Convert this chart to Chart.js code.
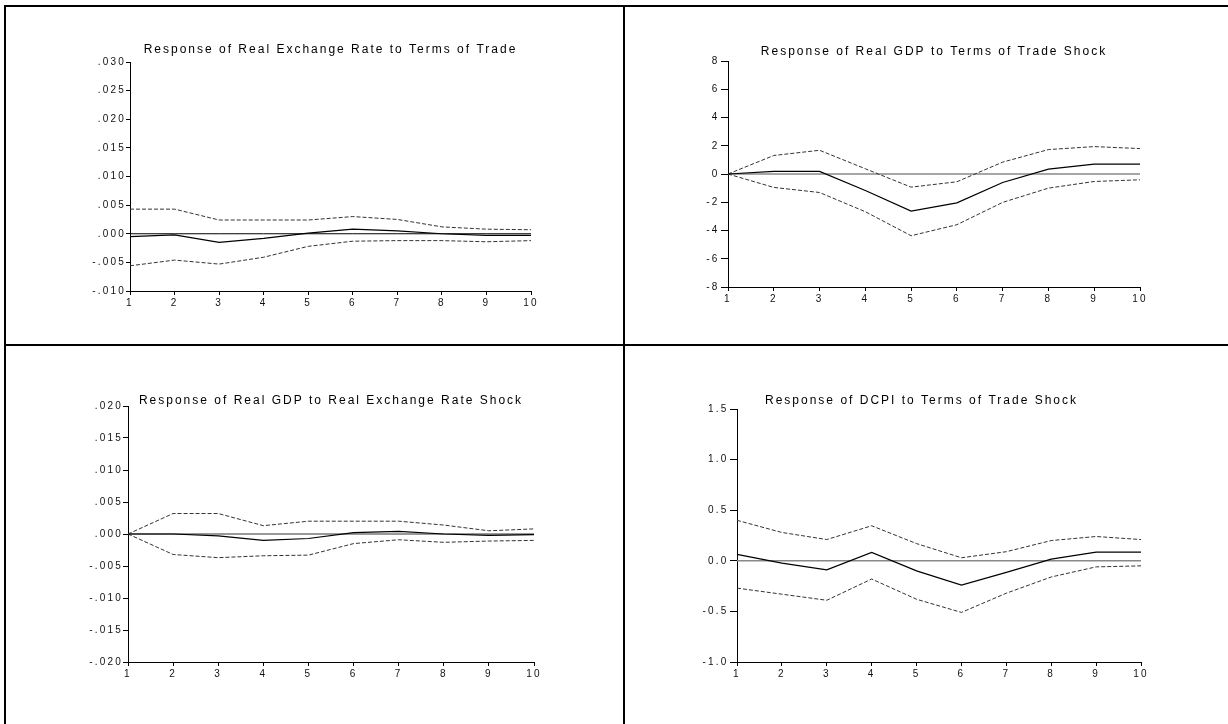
<!DOCTYPE html>
<html>
<head>
<meta charset="utf-8">
<script src="https://cdn.jsdelivr.net/npm/chart.js@4.4.0/dist/chart.umd.min.js"></script>
<style>
body { margin: 0; background: #fff; }
#page { position: relative; width: 1228px; height: 724px; overflow: hidden; background: #fff; }
canvas { position: absolute; }
.ln { position: absolute; background: #000; z-index: 2; }
</style>
</head>
<body>
<div id="page">
  <div class="ln" style="left:4px;top:5px;width:1224px;height:2px"></div>
  <div class="ln" style="left:4px;top:5px;width:2px;height:719px"></div>
  <div class="ln" style="left:623px;top:5px;width:2px;height:719px"></div>
  <div class="ln" style="left:4px;top:344px;width:1224px;height:2px"></div>
  <canvas id="c1"></canvas>
  <canvas id="c2"></canvas>
  <canvas id="c3"></canvas>
  <canvas id="c4"></canvas>
</div>
<script>
// periods after the shock
const steps = ['1', '2', '3', '4', '5', '6', '7', '8', '9', '10'];
const zeroLine = [0, 0, 0, 0, 0, 0, 0, 0, 0, 0];

// Response of Real Exchange Rate to Terms of Trade
const rerTotResp  = [-0.0005, -0.0002, -0.0015, -0.0008, 0.0001, 0.0008, 0.0005, 0.0000, -0.0003, -0.0003];
const rerTotUpper = [0.0043, 0.0043, 0.0024, 0.0024, 0.0024, 0.0030, 0.0025, 0.0012, 0.0008, 0.0007];
const rerTotLower = [-0.0056, -0.0046, -0.0053, -0.0041, -0.0022, -0.0013, -0.0012, -0.0012, -0.0014, -0.0012];
const rerTotTicks = ['-.010', '-.005', '.000', '.005', '.010', '.015', '.020', '.025', '.030'];

// Response of Real GDP to Terms of Trade Shock
const gdpTotResp  = [0, 0.18, 0.18, -1.17, -2.63, -2.04, -0.60, 0.34, 0.70, 0.70];
const gdpTotUpper = [0, 1.31, 1.68, 0.37, -0.93, -0.55, 0.84, 1.73, 1.94, 1.80];
const gdpTotLower = [0, -0.95, -1.31, -2.67, -4.37, -3.59, -2.01, -1.00, -0.53, -0.41];
const gdpTotTicks = ['-8', '-6', '-4', '-2', '0', '2', '4', '6', '8'];

// Response of Real GDP to Real Exchange Rate Shock
const gdpRerResp  = [0, 0.0000, -0.0003, -0.0010, -0.0007, 0.0002, 0.0004, 0.0000, -0.0002, -0.0001];
const gdpRerUpper = [0, 0.0032, 0.0032, 0.0013, 0.0020, 0.0020, 0.0020, 0.0014, 0.0005, 0.0008];
const gdpRerLower = [0, -0.0032, -0.0037, -0.0034, -0.0033, -0.0015, -0.0009, -0.0013, -0.0011, -0.0010];
const gdpRerTicks = ['-.020', '-.015', '-.010', '-.005', '.000', '.005', '.010', '.015', '.020'];

// Response of DCPI to Terms of Trade Shock
const cpiTotResp  = [0.063, -0.023, -0.090, 0.082, -0.100, -0.240, -0.115, 0.016, 0.086, 0.086];
const cpiTotUpper = [0.40, 0.28, 0.21, 0.346, 0.17, 0.03, 0.09, 0.20, 0.24, 0.21];
const cpiTotLower = [-0.27, -0.33, -0.39, -0.18, -0.38, -0.51, -0.32, -0.16, -0.06, -0.05];
const cpiTotTicks = ['-1.0', '-0.5', '0.0', '0.5', '1.0', '1.5'];

Chart.defaults.font.family = '"Liberation Sans", Arial, sans-serif';
Chart.defaults.color = '#000';

// EViews-style spaced lettering: one spacing for ticks, another for the title
const spacing = {
  id: 'spacing',
  beforeLayout(c) { c.ctx.letterSpacing = '2.2px'; },
  beforeDraw(c) {
    c.ctx.letterSpacing = '2.2px';
    const tb = c.titleBlock;
    if (tb && !tb._spaced) {
      const orig = tb.draw.bind(tb);
      tb.draw = function (area) {
        const prev = c.ctx.letterSpacing;
        c.ctx.letterSpacing = '2px';
        orig(area);
        c.ctx.letterSpacing = prev;
      };
      tb._spaced = true;
    }
  }
};

function build(id, geo, title, resp, upper, lower, ticks, yMin, yMax, yStep, zeroColor, zeroWidth) {
  const cv = document.getElementById(id);
  cv.width = geo.w; cv.height = geo.h;
  cv.style.left = geo.x + 'px'; cv.style.top = geo.y + 'px';
  const xH = 22;
  const tSize = 12;
  const padTop = geo.titleY - geo.y - tSize / 2;
  const titleGap = geo.top - geo.y - padTop - tSize;

  new Chart(cv, {
    type: 'line',
    data: {
      labels: steps,
      datasets: [
        { data: resp, borderColor: '#000', borderWidth: 1.2, order: 0 },
        { data: upper, borderColor: '#333', borderWidth: 1, borderDash: [4, 2], order: 1 },
        { data: lower, borderColor: '#333', borderWidth: 1, borderDash: [4, 2], order: 1 },
        { data: zeroLine, borderColor: zeroColor, borderWidth: zeroWidth, order: 2 }
      ]
    },
    options: {
      responsive: false,
      animation: false,
      elements: { point: { radius: 0 }, line: { tension: 0, fill: false } },
      layout: {
        autoPadding: false,
        padding: {
          left: geo.left - geo.x - geo.yW,
          right: geo.x + geo.w - geo.right,
          top: padTop,
          bottom: geo.y + geo.h - geo.bottom - xH
        }
      },
      plugins: {
        legend: { display: false },
        tooltip: { enabled: false },
        title: {
          display: true, text: title, color: '#000', fullSize: geo.titleFull,
          font: { size: tSize, weight: 'normal', lineHeight: 1 },
          padding: { top: 0, bottom: titleGap }
        }
      },
      scales: {
        x: {
          type: 'category', offset: false,
          grid: { display: true, drawOnChartArea: false, drawTicks: true, tickLength: 4, color: '#000' },
          border: { display: true, color: '#000', width: 1 },
          ticks: { font: { size: 10 }, color: '#111', padding: 2, maxRotation: 0, autoSkip: false },
          afterFit: s => { s.height = xH; }
        },
        y: {
          min: yMin, max: yMax,
          grid: { display: true, drawOnChartArea: false, drawTicks: true, tickLength: geo.tick, color: '#000' },
          border: { display: true, color: '#000', width: 1 },
          ticks: { stepSize: yStep, font: { size: 10 }, color: '#111', padding: geo.tickPad,
                   callback: (v, i) => ticks[i] },
          afterFit: s => { s.width = geo.yW; }
        }
      }
    },
    plugins: [spacing]
  });
}

build('c1', { x: 6, y: 7, w: 616, h: 337, left: 130, right: 531, top: 62, bottom: 291, titleY: 50, yW: 48, tick: 4, tickPad: 0, titleFull: false },
  'Response of Real Exchange Rate to Terms of Trade', rerTotResp, rerTotUpper, rerTotLower, rerTotTicks, -0.01, 0.03, 0.005, '#000', 1);

build('c2', { x: 625, y: 7, w: 603, h: 337, left: 728, right: 1140, top: 61, bottom: 287, titleY: 51.7, yW: 48, tick: 7, tickPad: 1.5, titleFull: false },
  'Response of Real GDP to Terms of Trade Shock', gdpTotResp, gdpTotUpper, gdpTotLower, gdpTotTicks, -8, 8, 2, '#888', 1.5);

build('c3', { x: 6, y: 346, w: 616, h: 378, left: 128, right: 534, top: 406, bottom: 662, titleY: 400.3, yW: 48, tick: 5, tickPad: 0, titleFull: false },
  'Response of Real GDP to Real Exchange Rate Shock', gdpRerResp, gdpRerUpper, gdpRerLower, gdpRerTicks, -0.02, 0.02, 0.005, '#777', 1.5);

build('c4', { x: 625, y: 346, w: 603, h: 378, left: 737, right: 1141, top: 409, bottom: 662, titleY: 400.3, yW: 35, tick: 7, tickPad: 1.5, titleFull: true },
  'Response of DCPI to Terms of Trade Shock', cpiTotResp, cpiTotUpper, cpiTotLower, cpiTotTicks, -1.0, 1.5, 0.5, '#888', 1.5);
</script>
</body>
</html>
